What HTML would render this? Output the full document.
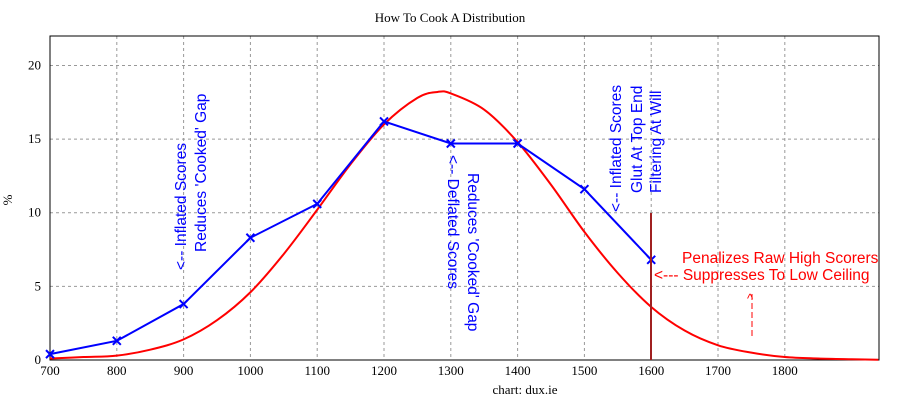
<!DOCTYPE html>
<html><head><meta charset="utf-8"><style>
body{margin:0;background:#fff;}
svg{display:block;}
.tick{font-family:"Liberation Serif",serif;font-size:13px;fill:#000;}
.ann{font-family:"Liberation Sans",sans-serif;font-size:15.5px;}
</style></head><body>
<svg id="chart" width="900" height="400" xmlns="http://www.w3.org/2000/svg">
<rect width="900" height="400" fill="#fff"/>
<g id="grid"></g>
<g id="ticks"></g>
<rect x="50" y="36" width="829" height="324" fill="none" stroke="#000" stroke-width="1"/>
<text x="450" y="22" text-anchor="middle" class="tick">How To Cook A Distribution</text>
<text x="525" y="394" text-anchor="middle" class="tick">chart: dux.ie</text>
<text x="12" y="200" text-anchor="middle" class="tick" transform="rotate(-90 12 200)">%</text>
<g id="series"></g>
<line x1="651" y1="213" x2="651" y2="360" stroke="#a02020" stroke-width="2"/>
<g class="ann" fill="#0000ff">
<text transform="translate(186,270) rotate(-90)">&lt;-- Inflated Scores</text>
<text transform="translate(206,252) rotate(-90)">Reduces 'Cooked' Gap</text>
<text transform="translate(448,155) rotate(90)">&lt;-- Deflated Scores</text>
<text transform="translate(468,173) rotate(90)">Reduces 'Cooked' Gap</text>
<text transform="translate(621,212) rotate(-90)">&lt;-- Inflated Scores</text>
<text transform="translate(642,193) rotate(-90)">Glut At Top End</text>
<text transform="translate(661,193) rotate(-90)">Filtering At Will</text>
</g>
<g class="ann" fill="#ff0000">
<text x="682" y="263">Penalizes Raw High Scorers</text>
<text x="654" y="280">&lt;--- Suppresses To Low Ceiling</text>
<text x="747" y="303" font-size="13">^</text>
</g>
<line x1="752" y1="294" x2="752" y2="338" stroke="#ff0000" stroke-dasharray="6,3"/>
</svg>
<script>
const xTicks=[700,800,900,1000,1100,1200,1300,1400,1500,1600,1700,1800];
const yTicks=[0,5,10,15,20];
const cookedX=[700,800,900,1000,1100,1200,1300,1400,1500,1600];
const cookedY=[0.4,1.3,3.8,8.3,10.6,16.2,14.7,14.7,11.6,6.8];
const rawX=[700,750,800,850,900,950,1000,1050,1100,1150,1200,1250,1280,1300,1350,1400,1450,1500,1550,1600,1650,1700,1750,1800,1850,1900,1940];
const rawY=[0.1,0.2,0.3,0.7,1.4,2.7,4.6,7.2,10.2,13.3,16.0,17.8,18.2,18.1,17.0,14.8,11.9,8.7,5.9,3.6,2.0,1.0,0.5,0.2,0.1,0.05,0.02];
const X0=50,X1=879,Y0=360,Y1=36,xmin=700,xmax=1941,ymin=0,ymax=22;
const sx=v=>X0+(v-xmin)/(xmax-xmin)*(X1-X0);
const sy=v=>Y0-(v-ymin)/(ymax-ymin)*(Y0-Y1);
const NS="http://www.w3.org/2000/svg";
const grid=document.getElementById('grid'),ticks=document.getElementById('ticks'),ser=document.getElementById('series');
function mk(t,a,p){const e=document.createElementNS(NS,t);for(const k in a)e.setAttribute(k,a[k]);p.appendChild(e);return e;}
xTicks.forEach(v=>{
 const x=sx(v);
 if(v>xmin){const g=mk('line',{x1:x,x2:x,y1:Y1,y2:Y0,stroke:'#999','stroke-dasharray':'3,3'},grid);
 
 }
 const t=mk('text',{x:x,y:375,'text-anchor':'middle',class:'tick'},ticks);t.textContent=v;
 
 
});
yTicks.forEach(v=>{
 const y=sy(v);
 if(v>ymin){const g=mk('line',{x1:X0,x2:X1,y1:y,y2:y,stroke:'#999','stroke-dasharray':'3,3'},grid);
 
 }
 const t=mk('text',{x:41,y:y+4,'text-anchor':'end',class:'tick'},ticks);t.textContent=v;
 
 
});
const P=rawX.map((v,i)=>[sx(v),sy(rawY[i])]);
let d='M'+P[0][0]+','+P[0][1];
for(let i=0;i<P.length-1;i++){
 const p0=P[i-1]||P[i],p1=P[i],p2=P[i+1],p3=P[i+2]||P[i+1];
 d+=' C'+(p1[0]+(p2[0]-p0[0])/6)+','+(p1[1]+(p2[1]-p0[1])/6)+' '+(p2[0]-(p3[0]-p1[0])/6)+','+(p2[1]-(p3[1]-p1[1])/6)+' '+p2[0]+','+p2[1];
}
const rc=mk('path',{d:d,fill:'none',stroke:'#ff0000','stroke-width':2},ser);


const bl=mk('polyline',{points:cookedX.map((v,i)=>sx(v)+','+sy(cookedY[i])).join(' '),fill:'none',stroke:'#0000ff','stroke-width':2},ser);


cookedX.forEach((v,i)=>{
 const x=sx(v),y=sy(cookedY[i]);
 const m=mk('path',{d:`M${x-4},${y-4}L${x+4},${y+4}M${x-4},${y+4}L${x+4},${y-4}`,stroke:'#0000ff','stroke-width':2},ser);
 
 
});
</script>
</body></html>
